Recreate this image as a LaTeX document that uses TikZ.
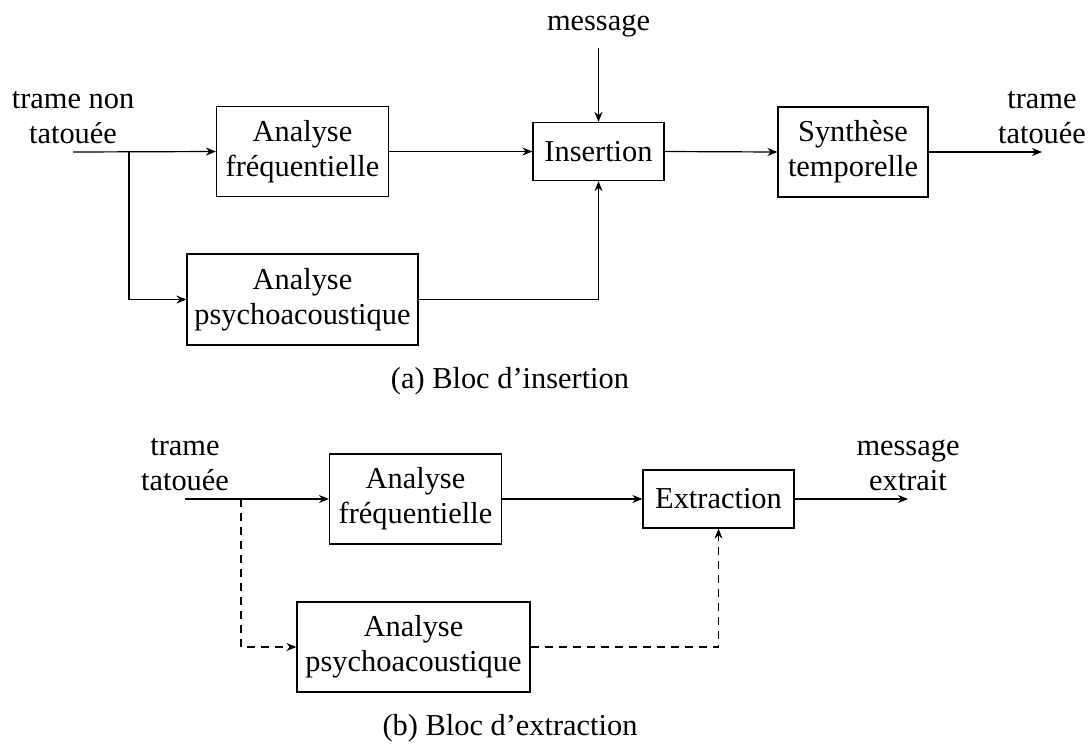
\documentclass[tikz,border=0pt]{standalone}
\usepackage{fontspec}
\setmainfont{Liberation Serif}
\usetikzlibrary{arrows.meta}
\begin{document}
\begin{tikzpicture}[x=0.5pt,y=-0.5pt,
  font=\fontsize{15.2}{17.5}\selectfont,
  every path/.style={line width=0.6pt},
  block/.style={draw, line width=0.6pt, align=center, inner sep=0pt},
  lbl/.style={align=center, inner sep=0pt},
  arr/.style={-{Stealth[length=5pt,width=4pt]}},
  dsh/.style={dash pattern=on 4pt off 3pt}]
\useasboundingbox (0,0) rectangle (1090,745);

% --- (a) embedding block ---
\node[block, minimum width=86pt, minimum height=45pt] (af1) at (302.5,151.5) {Analyse\\fréquentielle};
\node[block, minimum width=65.5pt, minimum height=29pt] (ins) at (598.5,151.5) {Insertion};
\node[block, minimum width=75pt, minimum height=45pt] (syn) at (853,152) {Synthèse\\temporelle};
\node[block, minimum width=115.5pt, minimum height=45.5pt] (ap1) at (302.5,299.5) {Analyse\\psychoacoustique};

\coordinate (in1) at (73,152);
\coordinate (br1) at (129,152);
\coordinate (out1) at (1042,152);
\coordinate (msg) at (598.5,48);

\node[lbl, anchor=south] (tin1) at ([yshift=4pt]in1) {trame non\\tatouée};
\node[lbl, anchor=south] (tout1) at ([yshift=4pt]out1) {trame\\tatouée};
\node[lbl, anchor=south] (tmsg) at ([yshift=5pt]msg) {message};

\draw[arr] (in1) -- (af1.west);
\draw[arr] (br1) |- (ap1.west);
\draw[arr] (af1.east) -- (ins.west);
\draw[arr] (msg) -- (ins.north);
\draw[arr] (ap1.east) -| (ins.south);
\draw[arr] (ins.east) -- (syn.west);
\draw[arr] (syn.east) -- (out1);

\node[lbl] (capa) at (510,381) {(a) Bloc d’insertion};

% --- (b) extraction block ---
\node[block, minimum width=86pt, minimum height=45pt] (af2) at (415.5,499) {Analyse\\fréquentielle};
\node[block, minimum width=75.5pt, minimum height=29pt] (ext) at (718.5,499) {Extraction};
\node[block, minimum width=116.5pt, minimum height=45pt] (ap2) at (413.5,647) {Analyse\\psychoacoustique};

\coordinate (in2) at (185,499);
\coordinate (br2) at (241,499);
\coordinate (out2) at (908,499);

\node[lbl, anchor=south] (tin2) at ([yshift=4pt]in2) {trame\\tatouée};
\node[lbl, anchor=south] (tout2) at ([yshift=4pt]out2) {message\\extrait};

\draw[arr] (in2) -- (af2.west);
\draw[arr, dsh] (br2) |- (ap2.west);
\draw[arr] (af2.east) -- (ext.west);
\draw[arr, dsh] (ap2.east) -| (ext.south);
\draw[arr] (ext.east) -- (out2);

\node[lbl] (capb) at (510,728) {(b) Bloc d’extraction};
\end{tikzpicture}
\end{document}
